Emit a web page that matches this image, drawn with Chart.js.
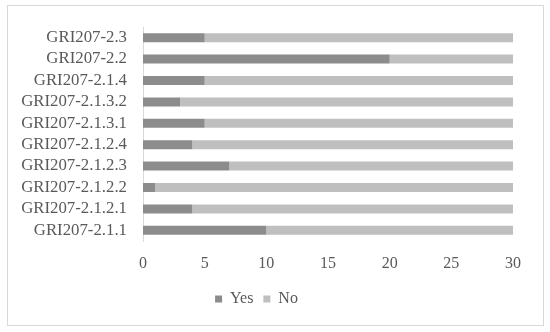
<!DOCTYPE html>
<html><head><meta charset="utf-8">
<script src="https://cdn.jsdelivr.net/npm/chart.js@4/dist/chart.umd.min.js"></script>
<style>html,body{margin:0;padding:0;background:#fff}#wrap{width:550px;height:332px;position:relative}</style>
</head><body><div id="wrap"><canvas id="c" width="550" height="332"></canvas></div>
<script>
const categories = ["GRI207-2.3","GRI207-2.2","GRI207-2.1.4","GRI207-2.1.3.2","GRI207-2.1.3.1","GRI207-2.1.2.4","GRI207-2.1.2.3","GRI207-2.1.2.2","GRI207-2.1.2.1","GRI207-2.1.1"];
const yesValues = [5,20,5,3,5,4,7,1,4,10];
const noValues = [25,10,25,27,25,26,23,29,26,20];
const xTicks = [0,5,10,15,20,25,30];

const borderPlugin = {
  id:'outerBorder',
  beforeDraw(chart){
    const ctx = chart.ctx;
    ctx.save();
    ctx.fillStyle='#fff';
    ctx.fillRect(0,0,chart.width,chart.height);
    ctx.strokeStyle='#d9d9d9';
    ctx.lineWidth=1;
    ctx.strokeRect(7.5,5.5,536,320);
    ctx.restore();
  }
};
const yFont = {family:"'Liberation Serif','Times New Roman',serif", size:16.8};
const font = {family:"'Liberation Serif','Times New Roman',serif", size:16};
new Chart(document.getElementById('c'), {
  type:'bar',
  data:{labels:categories, datasets:[
    {label:'Yes', data:yesValues, backgroundColor:'#8c8c8c', barPercentage:0.42, categoryPercentage:1},
    {label:'No', data:noValues, backgroundColor:'#bfbfbf', barPercentage:0.42, categoryPercentage:1}
  ]},
  options:{
    indexAxis:'y', responsive:false, animation:false, devicePixelRatio:1,
    layout:{padding:{top:27,right:37,bottom:15,left:0}},
    plugins:{
      legend:{position:'bottom', labels:{boxWidth:7, boxHeight:7, padding:10, color:'#595959', font:font}},
      tooltip:{enabled:false}
    },
    scales:{
      x:{stacked:true, min:0, max:30,
         afterBuildTicks(s){ s.ticks = xTicks.map(v=>({value:v})); },
         afterFit(s){ s.height = 40; },
         grid:{display:false, drawTicks:false}, border:{display:false},
         ticks:{color:'#595959', font:font, padding:13}},
      y:{stacked:true,
         afterFit(s){ s.width = 143; },
         grid:{display:false, drawTicks:false}, border:{display:true, color:'#d9d9d9'},
         ticks:{color:'#595959', font:yFont, padding:16, autoSkip:false}}
    }
  },
  plugins:[borderPlugin]
});
</script></body></html>
